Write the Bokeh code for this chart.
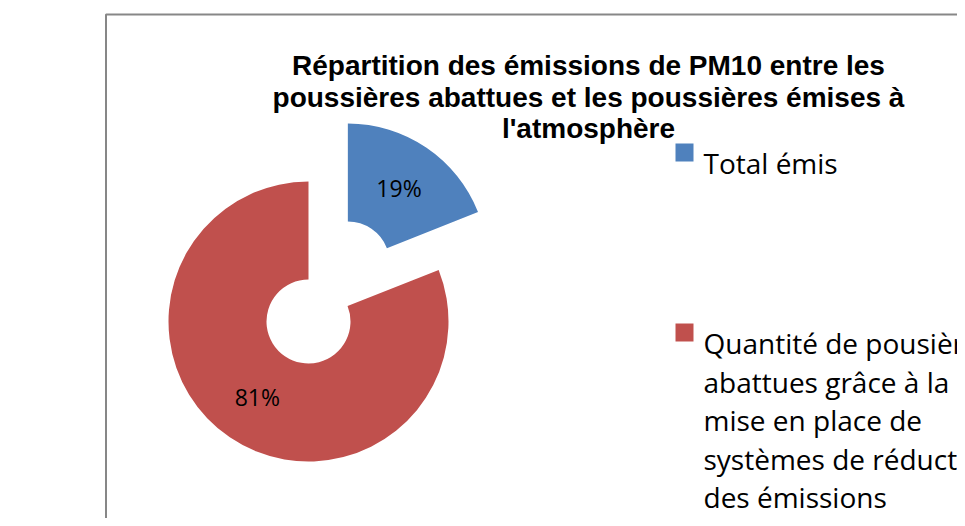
import math
from bokeh.plotting import figure
from bokeh.models import Range1d, ColumnDataSource
from bokeh.core.properties import value
from bokeh.embed import file_html
from bokeh.resources import INLINE

# ---- data ----
categories = ["Total émis",
              "Quantité de pousières abattues grâce à la mise en place de systèmes de réduction des émissions"]
legend_lines = [["Total émis"],
                ["Quantité de pousières", "abattues grâce à la", "mise en place de",
                 "systèmes de réduction", "des émissions"]]
percent_values = [19, 81]
colors = ["#4F81BD", "#C0504D"]
title_lines = ["Répartition des émissions de PM10 entre les",
               "poussières abattues et les poussières émises à",
               "l'atmosphère"]

# ---- layout constants (picture pixels) ----
W, H = 957, 518
def sy(v):
    return H - v

CX, CY = 308, 321
R_OUT, R_IN = 140, 42
EXPLODE = [70, 0]
LABEL_R = 91

p = figure(width=W, height=H, x_range=Range1d(0, W), y_range=Range1d(0, H),
           output_backend="svg", toolbar_location=None, min_border=0)
p.axis.visible = False
p.grid.visible = False
p.outline_line_color = None
p.background_fill_color = "white"
p.border_fill_color = "white"

# chart border (extends past the window)
p.quad(left=[105.5], right=[1100], top=[sy(14)], bottom=[sy(700)],
       fill_color=None, line_color="#878787", line_width=2)

# donut
total = sum(percent_values)
cum = 0
xs, ys, starts, ends, lx, ly, labels = [], [], [], [], [], [], []
for v, e in zip(percent_values, EXPLODE):
    a0 = 90 - cum / total * 360
    cum += v
    a1 = 90 - cum / total * 360
    mid = math.radians((a0 + a1) / 2)
    cx = CX + e * math.cos(mid)
    cy = sy(CY) + e * math.sin(mid)
    xs.append(cx); ys.append(cy)
    starts.append(math.radians(a1)); ends.append(math.radians(a0))
    lx.append(cx + LABEL_R * math.cos(mid)); ly.append(cy + LABEL_R * math.sin(mid))
    labels.append(f"{round(v / total * 100)}%")

src = ColumnDataSource(dict(x=xs, y=ys, start=starts, end=ends, color=colors))
p.annular_wedge(x="x", y="y", inner_radius=R_IN, outer_radius=R_OUT,
                inner_radius_units="screen", outer_radius_units="screen",
                start_angle="start", end_angle="end", direction="anticlock",
                fill_color="color", line_color=None, source=src)
p.text(x=lx, y=ly, text=labels, text_font=value("Open Sans"), text_font_size="23px",
       text_color="black", text_align="center", text_baseline="middle")

# title
title_y = [65, 97, 128]
p.text(x=[588] * len(title_lines), y=[sy(v) for v in title_y], text=title_lines,
       text_font=value("Liberation Sans"), text_font_style="bold", text_font_size="28px",
       text_color="black", text_align="center", text_baseline="alphabetic")

# legend
legend_top = [152, 332]
line_h = 38.5
p.scatter(x=[684] * len(categories), y=[sy(v) for v in legend_top], marker="square",
          size=18, fill_color=colors, line_color=None)
tx, ty, tt = [], [], []
for top, lines in zip(legend_top, legend_lines):
    for i, ln in enumerate(lines):
        tx.append(703); ty.append(sy(top + 10.5 + i * line_h)); tt.append(ln)
p.text(x=tx, y=ty, text=tt, text_font=value("Open Sans"), text_font_size="28px",
       text_color="black", text_align="left", text_baseline="alphabetic")

open("out.html", "w").write(file_html(p, INLINE))
